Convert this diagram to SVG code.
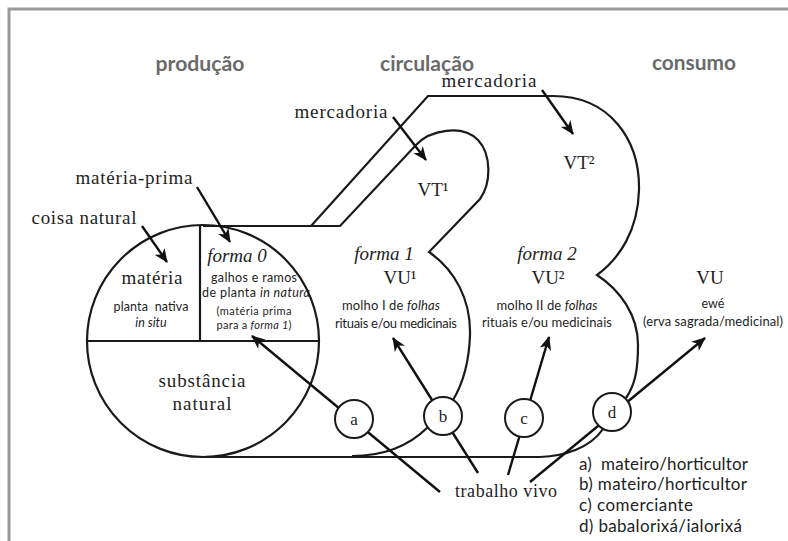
<svg xmlns="http://www.w3.org/2000/svg" width="788" height="541" viewBox="0 0 788 541">
<defs>
<marker id="ah" markerUnits="userSpaceOnUse" markerWidth="14" markerHeight="12" viewBox="0 0 14 12" refX="13" refY="6" orient="auto">
<path d="M0,0 L14,6 L0,12 L4,6 Z" fill="#111"/>
</marker>
<style>
.shape{fill:none;stroke:#1a1a1a;stroke-width:2.2}
.con{fill:none;stroke:#111;stroke-width:2.4}
.arr{fill:none;stroke:#111;stroke-width:2.4;marker-end:url(#ah)}
.node{fill:#fff;stroke:#1a1a1a;stroke-width:2}
.hd{font-family:Lato,"Open Sans",sans-serif;font-weight:bold;font-size:20px;fill:#6a6a6a;text-anchor:middle}
.sf{font-family:"Liberation Serif","Times New Roman",serif;fill:#1e1e1e;text-anchor:middle}
.ss{font-family:Lato,"Open Sans",sans-serif;fill:#1e1e1e;text-anchor:middle}
.lg{font-family:Lato,"Open Sans",sans-serif;font-size:17px;fill:#1e1e1e}
.it{font-style:italic}
.pre{white-space:pre}
</style>
</defs>
<rect width="788" height="541" fill="#fff"/>
<path d="M9,541 V9 H788" fill="none" stroke="#9a9a9a" stroke-width="3"/>

<g id="headers">
<text class="hd" x="200" y="71" textLength="89" lengthAdjust="spacingAndGlyphs">produção</text>
<text class="hd" x="427" y="71" textLength="94" lengthAdjust="spacingAndGlyphs">circulação</text>
<text class="hd" x="694" y="70" textLength="84" lengthAdjust="spacingAndGlyphs">consumo</text>
</g>

<g id="outline">
<circle class="shape" cx="203" cy="341" r="116"/>
<line class="shape" x1="87" y1="341" x2="319" y2="341"/>
<line class="shape" x1="200" y1="225" x2="200" y2="341"/>
<path class="shape" d="M203,226 H340 L416,145 C430,130 462,124 478,140 C492,155 491,184 480,199 L429,252 C455,270 471,300 470,335 C469,365 462,385 453,400"/>
<path class="shape" d="M311,226 L428,96 H553 C610,96 640,140 639,190 C638,230 620,258 597,275 C620,290 638,315 638,345 C638,370 635,385 626,398"/>
<path class="shape" d="M203,457 H540 C565,456 590,448 603,429"/>
<path class="shape" d="M352,456 C385,456 410,445 428,427"/>
</g>

<g id="connectors">
<line class="arr" x1="142" y1="226" x2="167" y2="262"/>
<line class="arr" x1="197" y1="187" x2="230" y2="242"/>
<line class="arr" x1="393" y1="117" x2="426" y2="160"/>
<line class="arr" x1="542" y1="90" x2="573" y2="134"/>
<line class="arr" x1="440" y1="492" x2="252" y2="336"/>
<line class="arr" x1="478" y1="473" x2="393" y2="338"/>
<line class="arr" x1="508" y1="475" x2="549" y2="337"/>
<line class="arr" x1="530" y1="482" x2="705" y2="338"/>
</g>

<g id="node-a"><circle class="node" cx="354" cy="419" r="19"/><text class="sf" x="354" y="425" font-size="17">a</text></g>
<g id="node-b"><circle class="node" cx="443" cy="416" r="19"/><text class="sf" x="443" y="422" font-size="17">b</text></g>
<g id="node-c"><circle class="node" cx="524" cy="418" r="19"/><text class="sf" x="524" y="424" font-size="17">c</text></g>
<g id="node-d"><circle class="node" cx="612" cy="412" r="19"/><text class="sf" x="612" y="418" font-size="17">d</text></g>

<g id="labels">
<text class="sf" x="489" y="87" font-size="19" textLength="95" lengthAdjust="spacing">mercadoria</text>
<text class="sf" x="341" y="118" font-size="19" textLength="93" lengthAdjust="spacing">mercadoria</text>
<text class="sf" x="134" y="184" font-size="19" textLength="117" lengthAdjust="spacing">matéria-prima</text>
<text class="sf" x="84" y="224" font-size="19" textLength="105" lengthAdjust="spacing">coisa natural</text>
</g>

<g id="materia">
<text class="sf" x="152" y="284" font-size="19" textLength="61" lengthAdjust="spacing">matéria</text>
<text class="ss pre" x="151" y="311" font-size="12.5" textLength="75" lengthAdjust="spacing">planta  nativa</text>
<text class="ss it" x="151" y="327" font-size="12.5">in situ</text>
</g>

<g id="forma0">
<text class="sf it" x="237" y="262" font-size="19">forma 0</text>
<text class="ss" x="254" y="282" font-size="12.5" textLength="86" lengthAdjust="spacing">galhos e ramos</text>
<text class="ss" x="256" y="297" font-size="12.5" textLength="108" lengthAdjust="spacing">de planta <tspan class="it">in natura</tspan></text>
<text class="ss" x="254" y="315" font-size="11" textLength="75" lengthAdjust="spacing">(matéria prima</text>
<text class="ss" x="254" y="329" font-size="11" textLength="75" lengthAdjust="spacing">para a <tspan class="it">forma 1</tspan>)</text>
</g>

<g id="substancia">
<text class="sf" x="202" y="387" font-size="19" textLength="87" lengthAdjust="spacing">substância</text>
<text class="sf" x="202" y="410" font-size="19" textLength="59" lengthAdjust="spacing">natural</text>
</g>

<g id="forma1">
<text class="sf" x="433" y="196" font-size="19">VT¹</text>
<text class="sf it" x="384" y="260" font-size="19">forma 1</text>
<text class="sf" x="400" y="284" font-size="19">VU¹</text>
<text class="ss" x="391" y="310" font-size="13" textLength="98" lengthAdjust="spacing">molho I de <tspan class="it">folhas</tspan></text>
<text class="ss" x="396" y="328" font-size="13" textLength="122" lengthAdjust="spacing">rituais e/ou medicinais</text>
</g>

<g id="forma2">
<text class="sf" x="579" y="169" font-size="19">VT²</text>
<text class="sf it" x="547" y="260" font-size="19">forma 2</text>
<text class="sf" x="548" y="284" font-size="19">VU²</text>
<text class="ss" x="547" y="310" font-size="13" textLength="101" lengthAdjust="spacing">molho II de <tspan class="it">folhas</tspan></text>
<text class="ss" x="547" y="327" font-size="13" textLength="130" lengthAdjust="spacing">rituais e/ou medicinais</text>
</g>

<g id="vu">
<text class="sf" x="710" y="284" font-size="19">VU</text>
<text class="ss" x="713" y="308" font-size="12.5">ewé</text>
<text class="ss" x="713" y="326" font-size="13" textLength="140" lengthAdjust="spacing">(erva sagrada/medicinal)</text>
</g>

<g id="trabalho">
<text class="sf" x="506" y="497" font-size="18" textLength="102" lengthAdjust="spacing">trabalho vivo</text>
</g>

<g id="legend">
<text class="lg pre" x="579" y="470" textLength="169" lengthAdjust="spacing">a)  mateiro/horticultor</text>
<text class="lg" x="579" y="490" textLength="168" lengthAdjust="spacing">b) mateiro/horticultor</text>
<text class="lg" x="579" y="511" textLength="114" lengthAdjust="spacing">c) comerciante</text>
<text class="lg" x="579" y="532" textLength="163" lengthAdjust="spacing">d) babalorixá/ialorixá</text>
</g>
</svg>
